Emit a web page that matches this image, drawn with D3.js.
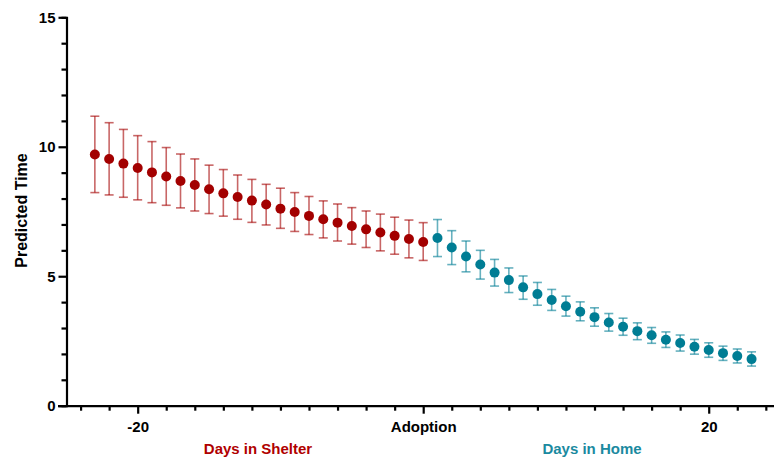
<!DOCTYPE html>
<html><head><meta charset="utf-8">
<script src="https://cdn.jsdelivr.net/npm/d3@7"></script>
<style>body{margin:0;background:#fff}svg{display:block}text{font-family:"Liberation Sans",Arial,sans-serif;font-weight:bold}</style>
</head><body>
<svg id="c" width="774" height="458"></svg>
<script>
// Days in Shelter (days -23..0)
const shelterDays = [-23,-22,-21,-20,-19,-18,-17,-16,-15,-14,-13,-12,-11,-10,-9,-8,-7,-6,-5,-4,-3,-2,-1,0];
const shelterMean = [9.70,9.53,9.35,9.18,9.01,8.85,8.68,8.52,8.36,8.20,8.06,7.92,7.77,7.61,7.48,7.33,7.20,7.07,6.94,6.81,6.69,6.56,6.44,6.32];
const shelterHigh = [11.18,10.93,10.67,10.43,10.20,9.97,9.72,9.53,9.29,9.12,8.91,8.74,8.55,8.40,8.23,8.08,7.91,7.79,7.65,7.52,7.40,7.28,7.17,7.07];
const shelterLow  = [8.23,8.14,8.05,7.95,7.84,7.74,7.64,7.52,7.42,7.32,7.20,7.08,6.98,6.85,6.73,6.61,6.48,6.36,6.24,6.11,5.98,5.85,5.71,5.61];
// Days in Home (days 1..23)
const homeDays = [1,2,3,4,5,6,7,8,9,10,11,12,13,14,15,16,17,18,19,20,21,22,23];
const homeMean = [6.48,6.11,5.76,5.45,5.14,4.85,4.57,4.31,4.08,3.84,3.63,3.42,3.21,3.05,2.88,2.72,2.55,2.42,2.28,2.15,2.03,1.92,1.80];
const homeHigh = [7.19,6.76,6.36,6.00,5.65,5.32,5.01,4.76,4.49,4.23,4.01,3.78,3.56,3.38,3.20,3.02,2.85,2.73,2.56,2.43,2.30,2.19,2.08];
const homeLow  = [5.76,5.45,5.17,4.89,4.62,4.37,4.11,3.88,3.68,3.46,3.28,3.07,2.88,2.72,2.55,2.41,2.25,2.11,1.99,1.87,1.75,1.65,1.53];
// axis ticks
const yMajorTicks = [0,5,10,15];
const yMinorTicks = [1,2,3,4,6,7,8,9,11,12,13,14];
const xMajorTicks = [-20,0,20];
const xMajorLabels = ["-20","Adoption","20"];
const xMinorTicks = [-24,-22,-18,-16,-14,-12,-10,-8,-6,-4,-2,2,4,6,8,10,12,14,16,18,22,24];
const yTitle = "Predicted Time";
const groupLabels = ["Days in Shelter","Days in Home"];

const RED = "#a30000", TEAL = "#007d94";
const FS = "15px";
const svg = d3.select("#c");
const x = d3.scaleLinear().domain([-25,25]).range([66.3,780.1]);
const y = d3.scaleLinear().domain([0,15]).range([405.7,17.3]);

// axes
const yAxisMajor = d3.axisLeft(y).tickValues(yMajorTicks).tickSize(8).tickPadding(3).tickFormat(d3.format("d"));
const yAxisMinor = d3.axisLeft(y).tickValues(yMinorTicks).tickSize(5).tickFormat("");
const gy = svg.append("g").attr("transform","translate(66.5,0)");
gy.call(yAxisMinor); gy.append("g").call(yAxisMajor);
const xAxisMajor = d3.axisBottom(x).tickValues(xMajorTicks).tickSize(8).tickPadding(8).tickFormat((d,i)=>xMajorLabels[i]);
const xAxisMinor = d3.axisBottom(x).tickValues(xMinorTicks).tickSize(5).tickFormat("");
const gx = svg.append("g").attr("transform","translate(0,405.7)");
gx.call(xAxisMinor); gx.append("g").call(xAxisMajor);
svg.selectAll(".domain").attr("stroke","#000").attr("stroke-width",2.2);
svg.selectAll(".tick line").attr("stroke","#000").attr("stroke-width",2.2);
svg.selectAll(".tick text").attr("fill","#000").style("font-size",FS).style("font-weight","bold").style("font-family","'Liberation Sans',Arial,sans-serif");
gx.selectAll("g > g .domain").remove();
gy.selectAll("g > g .domain").remove();
gx.select(".domain").attr("d","M58,0.5H780");

// titles
svg.append("text").attr("transform","translate(26.7,210.5) rotate(-90)").attr("text-anchor","middle")
  .style("font-size","16px").attr("fill","#000").text(yTitle);
svg.append("text").attr("x",258).attr("y",454).attr("text-anchor","middle").style("font-size",FS).attr("fill","#b00000").text(groupLabels[0]);
svg.append("text").attr("x",592).attr("y",454).attr("text-anchor","middle").style("font-size",FS).attr("fill","#1b8aa0").text(groupLabels[1]);

function series(days, mean, hi, lo, color){
  const d = days.map((v,i)=>({x:v,m:mean[i],h:hi[i],l:lo[i]}));
  const g = svg.append("g");
  const e = g.selectAll(".eb").data(d).join("g").attr("stroke",color).attr("stroke-opacity",0.6).attr("stroke-width",1.6);
  e.append("line").attr("x1",p=>x(p.x)).attr("x2",p=>x(p.x)).attr("y1",p=>y(p.h)).attr("y2",p=>y(p.l));
  e.append("line").attr("x1",p=>x(p.x)-4.5).attr("x2",p=>x(p.x)+4.5).attr("y1",p=>y(p.h)).attr("y2",p=>y(p.h));
  e.append("line").attr("x1",p=>x(p.x)-4.5).attr("x2",p=>x(p.x)+4.5).attr("y1",p=>y(p.l)).attr("y2",p=>y(p.l));
  g.selectAll("circle").data(d).join("circle").attr("cx",p=>x(p.x)).attr("cy",p=>y(p.m)).attr("r",5).attr("fill",color);
}
series(shelterDays,shelterMean,shelterHigh,shelterLow,RED);
series(homeDays,homeMean,homeHigh,homeLow,TEAL);
</script>
</body></html>
